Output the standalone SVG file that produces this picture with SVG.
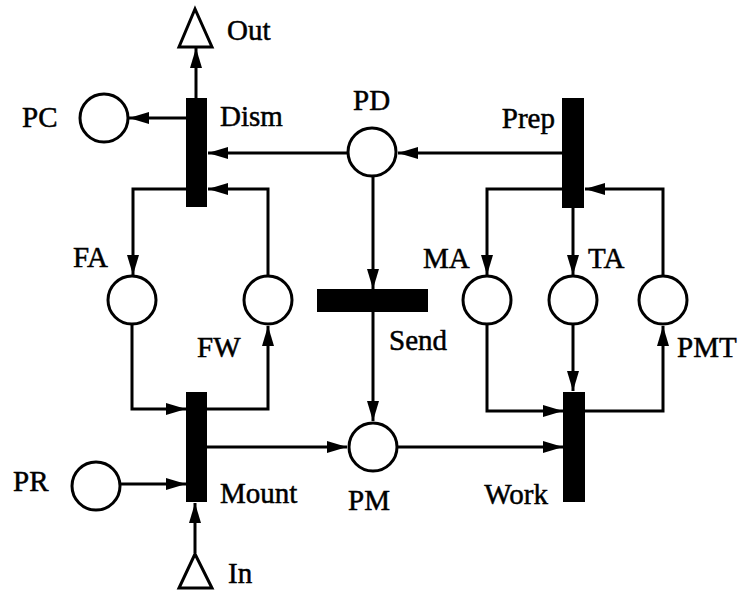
<svg xmlns="http://www.w3.org/2000/svg" width="743" height="591" viewBox="0 0 743 591">
<style>
.p{fill:#fff;stroke:#000;stroke-width:3}
.t{fill:#000}
.e{fill:none;stroke:#000;stroke-width:3;marker-end:url(#a)}
text{font-family:"Liberation Serif","Times New Roman",serif;font-size:29px;fill:#000;stroke:#000;stroke-width:0.5}
</style>
<defs>
<marker id="a" markerUnits="userSpaceOnUse" markerWidth="21" markerHeight="12" refX="20" refY="6" orient="auto">
<path d="M0,0 L20,6 L0,12 Z" fill="#000"/>
</marker>
</defs>
<rect width="743" height="591" fill="#fff"/>
<g id="connectors">
<path class="e" d="M196,98 V48"/>
<path class="e" d="M186,118 H129"/>
<path class="e" d="M347,153 H208"/>
<path class="e" d="M562,153 H398"/>
<path class="e" d="M186,189 H133 V275"/>
<path class="e" d="M268,276 V189 H208"/>
<path class="e" d="M132,325 V409 H186"/>
<path class="e" d="M207,409 H268 V326"/>
<path class="e" d="M120,484 H186"/>
<path class="e" d="M195,553 V503"/>
<path class="e" d="M207,447 H347"/>
<path class="e" d="M373,176 V289"/>
<path class="e" d="M373,312 V421"/>
<path class="e" d="M398,447 H563"/>
<path class="e" d="M562,189 H487 V275"/>
<path class="e" d="M573,208 V275"/>
<path class="e" d="M663,276 V189 H585"/>
<path class="e" d="M487,325 V411 H563"/>
<path class="e" d="M573,325 V391"/>
<path class="e" d="M585,411 H663 V326"/>
</g>
<g id="Out"><path class="p" d="M195,9 L179,47 L212,47 Z"/><text x="227" y="40">Out</text></g>
<g id="In"><path class="p" d="M195,554 L179,588 L212,588 Z"/><text x="228" y="583">In</text></g>
<g id="Dism"><rect class="t" x="186" y="98" width="21" height="109"/><text x="220" y="126">Dism</text></g>
<g id="Mount"><rect class="t" x="186" y="392" width="21" height="110"/><text x="220" y="503">Mount</text></g>
<g id="Prep"><rect class="t" x="562" y="98" width="22" height="110"/><text x="555" y="128" text-anchor="end">Prep</text></g>
<g id="Work"><rect class="t" x="563" y="392" width="22" height="110"/><text x="548" y="504" text-anchor="end">Work</text></g>
<g id="Send"><rect class="t" x="317" y="289" width="111" height="23"/><text x="389" y="350">Send</text></g>
<g id="PC"><circle class="p" cx="104" cy="118" r="24"/><text x="22" y="127">PC</text></g>
<g id="PD"><circle class="p" cx="372" cy="152" r="24"/><text x="353" y="110">PD</text></g>
<g id="FA"><circle class="p" cx="132" cy="300" r="24"/><text x="73" y="267">FA</text></g>
<g id="FW"><circle class="p" cx="268" cy="300" r="24"/><text x="197" y="357">FW</text></g>
<g id="PR"><circle class="p" cx="96" cy="486" r="24"/><text x="13" y="491">PR</text></g>
<g id="PM"><circle class="p" cx="373" cy="447" r="24"/><text x="348" y="510">PM</text></g>
<g id="MA"><circle class="p" cx="487" cy="300" r="24"/><text x="423" y="268">MA</text></g>
<g id="TA"><circle class="p" cx="573" cy="300" r="24"/><text x="588" y="268">TA</text></g>
<g id="PMT"><circle class="p" cx="663" cy="300" r="24"/><text x="677" y="357">PMT</text></g>
</svg>
